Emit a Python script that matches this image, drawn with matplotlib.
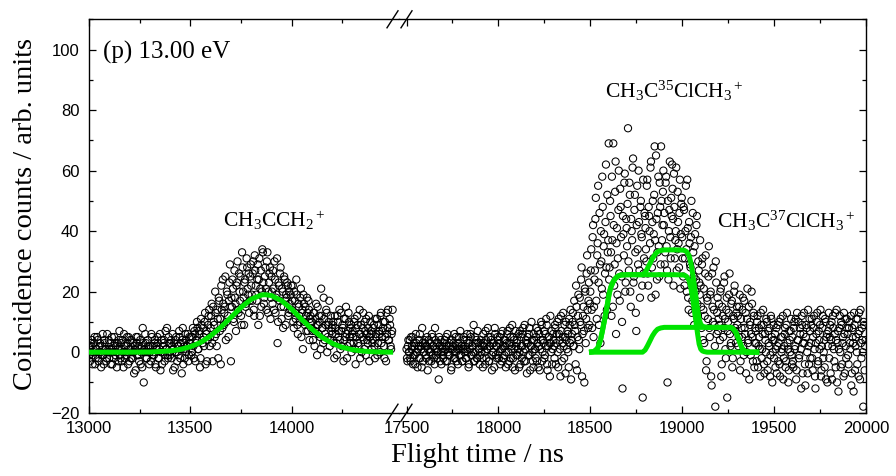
import numpy as np
import matplotlib
matplotlib.use('Agg')
import matplotlib.pyplot as plt
from matplotlib.lines import Line2D

plt.rcParams['font.family'] = ['Liberation Sans', 'DejaVu Sans']
plt.rcParams['mathtext.fontset'] = 'custom'
plt.rcParams['mathtext.rm'] = 'Liberation Serif'
plt.rcParams['mathtext.it'] = 'Liberation Serif:italic'
plt.rcParams['mathtext.bf'] = 'Liberation Serif:bold'

# ---------------- data ----------------
BIN_NS = 5          # spacing of each recorded series
HALF_BIN = 2.5      # second series sits between the bins of the first
LEFT_T0 = 13000
RIGHT_T0 = 17500

left_counts = [
    2, -3, 0, 4, -1, 3, -4, 1, 5, -2, 0, 3, -5, 2, -1, 4, 1, -3, 6, 0,
    -2, 3, 1, -4, 2, 5, -1, 0, 3, -3, 7, -2, 1, 4, -5, 2, 0, -1, 3, 5,
    -3, 1, 4, -2, 0, 2, -6, 3, 5, -1, 1, -4, 2, 8, -10, 0, 3, -2, 4, 1,
    0, -3, 5, 2, -1, 4, -5, 1, 3, -2, 6, 0, -4, 2, 4, -1, 1, 8, -2, 3,
    -1, 4, 2, -6, 3, 0, 5, -3, 2, 7, -2, 1, 4, -4, 3, 6, 0, 2, -3, 5,
    3, -1, 5, 2, 7, -3, 4, 8, 1, 6, -2, 9, 3, 5, 10, -4, 7, 4, 12, 2,
    8, 16, -3, 10, 5, 13, 2, 11, 18, 7, -4, 14, 24, 9, 15, 4, 20, 12, 17, 29,
    -3, 15, 21, 10, 18, 7, 23, 14, 26, 17, 12, 33, 20, 9, 24, 16, 28, 19, 13, 25,
    22, 17, 30, 12, 27, 19, 24, 9, 31, 21, 15, 34, 23, 18, 28, 14, 33, 20, 26, 11,
    25, 16, 21, 30, 13, 19, 3, 23, 17, 28, 11, 20, 15, 24, 9, 18, 22, 13, 16, 19,
    14, 22, 8, 17, 11, 19, 6, 15, 10, 21, 13, 1, 16, 9, 12, 18, 7, 14, 11, 8,
    10, 4, 13, 7, 16, -1, 9, 12, 5, 21, 8, 3, 11, 6, 14, 0, 9, 17, 4, 7,
    6, 10, -2, 8, 3, 12, 5, 14, 1, 7, 9, -3, 4, 11, 6, 2, 13, 5, 8, 0,
    7, 3, 11, -4, 5, 9, 2, 14, 6, 0, 8, 4, 10, -1, 6, 3, 12, 5, 7, 1,
    4, 9, -2, 6, 11, 3, 7, 0, 13, 5, 8, 2, 10, -3, 6, 14, 4, 9, 1, 7,
]

left_counts_b = [
    -1, 3, 2, -4, 0, 5, -2, 1, 4, -3, 2, 0, -1, 6, -4, 3, 1, -2, 0, 4,
    1, -4, 5, 0, -2, 3, 2, -5, 1, 4, -1, 3, -3, 0, 6, -2, 2, 5, -4, 1,
    4, -2, 0, 3, -7, 1, 5, -1, 2, -3, 4, 0, -5, 3, 1, 6, -2, 0, 2, -4,
    2, 6, -1, 0, 3, -4, 2, 5, -2, 1, -6, 4, 0, 3, -3, 7, 1, -1, 5, 0,
    3, -2, 6, 1, -5, 4, 0, 2, -1, 5, 3, -7, 8, 1, -2, 4, 2, 6, -1, 3,
    5, 0, 8, -2, 6, 3, 10, 1, 7, -5, 11, 4, 8, 2, 13, 6, -3, 9, 14, 5,
    12, 3, 15, 9, 20, 6, 14, -2, 17, 11, 22, 8, 16, 13, 25, 10, 19, 5, 23, 15,
    18, 24, 11, 27, 16, 22, 30, 13, 20, 25, 9, 28, 18, 23, 15, 31, 21, 26, 17, 29,
    19, 26, 14, 32, 22, 17, 29, 24, 12, 27, 20, 33, 16, 25, 21, 30, 13, 23, 28, 18,
    20, 27, 14, 24, 18, 31, 10, 22, 26, 15, 21, 8, 25, 17, 19, 23, 12, 20, 14, 22,
    17, 10, 20, 13, 24, 9, 16, 12, 18, 5, 14, 19, 10, 15, 7, 13, 17, 4, 12, 10,
    7, 13, 2, 11, 9, 15, 6, 10, 1, 12, 8, 18, 4, 9, 13, 5, 10, 2, 12, 8,
    9, 3, 12, 6, -1, 10, 7, 4, 13, 2, 8, 11, 5, 15, -2, 7, 10, 3, 9, 6,
    5, 10, 1, 8, 12, 3, 6, -2, 9, 5, 13, 1, 7, 11, 4, 8, -3, 10, 6, 3,
    8, 2, 11, 5, -1, 9, 6, 12, 3, 7, 10, -2, 5, 13, 8, 4, 11, 2, 6, 14,
]

right_counts = [
    1, -3, 4, 0, -2, 5, 2, -4, 3, -1, 6, 0, -5, 2, 4, -2, 1, 8, -3, 0,
    3, -1, 2, -6, 4, 0, 1, -3, 5, 2, -2, 8, -1, 3, 0, -9, 2, 4, -4, 1,
    -2, 3, 1, 5, -3, 0, 2, -1, 4, -5, 1, 3, 6, -2, 0, 2, -4, 5, 1, -1,
    2, -3, 4, 0, 1, -2, 6, 3, -4, 1, 5, -1, 2, 9, -3, 0, 4, -2, 3, 1,
    -1, 4, 2, -5, 3, 0, 7, -2, 1, 5, -3, 2, 4, -6, 0, 3, 8, -1, 2, 5,
    0, 3, -4, 6, 1, -2, 4, 2, -5, 3, 7, 0, -3, 5, 1, 9, -2, 4, -6, 2,
    3, -1, 6, 0, -4, 5, 2, 8, -3, 1, 4, -7, 3, 6, -1, 2, 10, 0, -5, 4,
    1, 5, -3, 7, 2, -6, 4, 9, 0, 3, -2, 6, 11, -4, 2, 5, -8, 3, 7, 1,
    4, -2, 8, 3, 10, -5, 6, 1, 12, -3, 5, 2, 9, -7, 4, 7, 0, 11, 3, -9,
    6, 13, 2, 9, -4, 15, 5, 19, 1, 10, 24, -8, 12, 7, 21, 3, 26, 14, 17, 9,
    20, 34, 8, 42, 15, 27, 51, 11, 36, 23, 46, 3, 30, 58, 19, 39, 26, 62, 14, 33,
    69, 28, 45, 12, 37, 69, 22, 53, 6, 41, 31, 60, 17, 48, 25, -12, 39, 56, 20, 44,
    35, 74, 27, 52, 15, 40, 61, 23, 47, 33, 7, 55, 29, 43, 18, 50, 38, -15, 26, 46,
    41, 30, 57, 22, 45, 36, 63, 28, 50, 39, 68, 19, 44, 33, 58, 25, 48, 68, 37, 53,
    42, 29, 56, 35, -10, 24, 47, 38, 51, 62, 44, 59, 31, 40, 27, 53, 36, 46, 21, 49,
    38, 25, 47, 31, 55, 20, 41, 14, 36, 28, 50, 17, 33, 9, 39, 24, 45, 12, 27, 19,
    22, 8, 31, 14, 3, 26, -6, 18, 11, 35, 5, 20, -11, 15, 28, 9, -18, 23, 13, 7,
    16, 4, 21, -4, 12, 8, 25, 1, 14, -15, 10, 19, 6, 3, 17, -2, 11, 22, 7, 13,
    9, 2, 15, -6, 11, 5, 18, -1, 8, 13, 0, 21, 4, -9, 10, 6, 16, -3, 12, 3,
    7, -3, 12, 2, 5, -8, 9, 1, 14, -4, 6, 0, 10, -6, 3, 8, -1, 11, -10, 4,
    -2, 6, 1, -7, 9, 3, -4, 11, 0, 5, -9, 2, 8, -3, 13, 1, -6, 4, 7, -1,
    5, -5, 10, 2, -9, 13, 4, -2, 8, 1, 12, -7, 6, 3, -11, 9, 0, 14, -4, 7,
    3, 11, -6, 8, 1, -12, 6, 13, -3, 4, 9, -8, 2, 12, 0, -5, 10, 5, -10, 7,
    -2, 9, 4, -9, 12, 1, 6, -5, 14, 3, -13, 8, 0, 10, -4, 5, 13, -7, 2, 11,
    6, -4, 10, 1, -11, 8, 3, 13, -6, 5, 0, 11, -8, 7, 14, -2, 4, -18, 9, 2,
]

right_counts_b = [
    -2, 2, 0, 4, -3, 1, 5, -1, 2, -4, 3, 0, 1, -2, 6, 2, -5, 3, 0, 4,
    2, -2, 5, 1, -3, 3, 0, 6, -1, 2, -4, 4, 1, -2, 3, 5, -3, 0, 2, -1,
    0, 4, -3, 2, 6, -1, 3, 1, -6, 4, 2, -2, 0, 5, -3, 1, 3, -1, 7, 2,
    -3, 1, 5, 2, -2, 4, 0, -5, 3, 6, -1, 2, 0, -3, 5, 3, -2, 7, 1, -4,
    3, 0, -2, 6, 2, -4, 4, 1, 8, -3, 2, 5, -1, 3, 0, -5, 6, 2, -2, 4,
    -2, 5, 1, -3, 7, 2, -1, 4, 0, 6, -4, 3, 8, -2, 2, -5, 5, 1, 7, -1,
    4, 1, -5, 7, 2, -2, 6, 0, 9, -3, 3, 5, -1, 8, -6, 2, 4, -3, 6, 1,
    -2, 8, 3, -5, 6, 1, 10, -3, 4, 7, -1, 2, 9, -6, 5, 3, 12, 0, -4, 6,
    2, 9, -4, 6, 0, 11, 4, -8, 7, 3, 13, -2, 5, 10, 1, 6, -5, 9, 14, 4,
    10, 2, 17, 7, 22, -6, 12, 4, 18, 9, 28, 6, 15, -10, 20, 11, 32, 8, 23, 16,
    27, 14, 38, 5, 24, 44, 17, 32, 55, 9, 29, 40, 21, 48, 35, 12, 43, 28, 52, 37,
    24, 50, 33, 58, 15, 42, 29, 63, 36, 19, 47, 26, 54, 38, 10, 45, 32, 59, 23, 41,
    49, 30, 56, 20, 44, 37, 64, 25, 52, 13, 42, 34, 60, 27, 48, 39, 22, 57, 31, 45,
    34, 55, 26, 48, 40, 61, 18, 43, 31, 52, 37, 65, 24, 46, 35, 56, 29, 50, 42, 60,
    46, 33, 58, 27, 50, 40, 63, 31, 45, 54, 22, 48, 37, 61, 34, 43, 28, 57, 39, 51,
    31, 48, 22, 40, 34, 57, 18, 43, 29, 38, 13, 46, 25, 35, 20, 42, 16, 30, 23, 37,
    15, 29, 4, 21, 12, 32, -3, 17, 25, 8, 19, -8, 26, 10, 14, 2, 30, 6, 18, 11,
    9, 20, -8, 15, 5, 23, 11, -2, 18, 7, 13, 26, 2, 16, -5, 12, 20, 8, 3, 15,
    12, 5, 19, -3, 8, 14, 2, 17, 6, -7, 11, 3, 15, 9, -1, 20, 5, 13, -5, 8,
    3, 10, -5, 8, 1, 13, -2, 6, 9, -7, 4, 11, -3, 7, 2, -8, 12, 5, 0, 9,
    4, -5, 8, 2, -3, 10, -8, 5, 1, 12, -2, 6, -5, 9, 3, -10, 7, 0, 11, -4,
    -3, 8, 1, 11, -6, 4, 10, -1, 6, -12, 9, 3, 13, -4, 5, 8, -7, 2, 11, -2,
    9, -2, 5, 12, -8, 3, 10, -4, 7, 1, 14, -6, 8, -2, 4, 11, -9, 6, 2, 13,
    5, -7, 10, 2, 8, -3, 13, 4, -10, 7, 1, 12, -5, 9, 3, -8, 6, 11, -2, 8,
    -1, 8, 3, 12, -7, 5, -13, 9, 2, 11, -4, 6, 13, -9, 3, 8, 0, 10, -6, 4,
]

# fitted curve for CH3CCH2+ (left part)
gauss_t = [13000, 13100, 13200, 13300, 13400, 13450, 13500, 13550, 13600, 13650,
           13700, 13750, 13800, 13850, 13870, 13900, 13950, 14000, 14050, 14100,
           14150, 14200, 14250, 14300, 14350, 14400, 14450, 14500]
gauss_y = [0.0, 0.0, 0.0, 0.05, 0.4, 0.9, 1.8, 3.2, 5.4, 8.2,
           11.5, 14.8, 17.5, 18.9, 19.0, 18.7, 17.0, 14.2, 10.8, 7.6,
           4.9, 2.9, 1.6, 0.8, 0.35, 0.15, 0.05, 0.0]

# fitted curves for CH3C35ClCH3+, CH3C37ClCH3+ and their sum (right part)
fit_t = [18493, 18520, 18540, 18555, 18566, 18580, 18593, 18603, 18611, 18625,
         18638, 18652, 18666, 18700, 18750, 18784, 18798, 18811, 18825, 18838,
         18852, 18866, 18883, 18902, 18920, 18960, 19010, 19024, 19038, 19047,
         19056, 19065, 19074, 19083, 19092, 19101, 19110, 19119, 19135, 19200,
         19265, 19279, 19292, 19301, 19310, 19319, 19328, 19342, 19356, 19419]
fit_35 = [0.0, 0.2, 1.3, 4.0, 7.1, 11.5, 15.9, 19.5, 21.4, 23.4,
          24.5, 25.2, 25.5, 25.6, 25.6, 25.6, 25.6, 25.6, 25.6, 25.6,
          25.6, 25.6, 25.6, 25.6, 25.6, 25.6, 25.5, 25.0, 23.6, 21.3,
          18.1, 14.3, 10.4, 6.3, 2.7, 1.0, 0.4, 0.2, 0.0, 0.0,
          0.0, 0.0, 0.0, 0.0, 0.0, 0.0, 0.0, 0.0, 0.0, 0.0]
fit_37 = [0.0, 0.0, 0.0, 0.0, 0.0, 0.0, 0.0, 0.0, 0.0, 0.0,
          0.0, 0.0, 0.0, 0.0, 0.0, 0.0, 0.7, 2.1, 3.8, 5.4,
          6.7, 7.6, 8.0, 8.2, 8.2, 8.2, 8.2, 8.2, 8.2, 8.2,
          8.2, 8.2, 8.2, 8.2, 8.2, 8.2, 8.2, 8.2, 8.2, 8.2,
          8.2, 7.6, 6.5, 5.3, 3.8, 2.3, 1.1, 0.3, 0.0, 0.0]
fit_total = [0.0, 0.2, 1.3, 4.0, 7.1, 11.5, 15.9, 19.5, 21.4, 23.4,
             24.5, 25.2, 25.5, 25.6, 25.6, 25.6, 26.3, 27.7, 29.4, 31.0,
             32.3, 33.2, 33.6, 33.8, 33.8, 33.8, 33.7, 33.2, 31.8, 29.5,
             26.3, 22.5, 18.6, 14.5, 10.9, 9.2, 8.6, 8.4, 8.2, 8.2,
             8.2, 7.6, 6.5, 5.3, 3.8, 2.3, 1.1, 0.3, 0.0, 0.0]

left_t = LEFT_T0 + BIN_NS * np.arange(len(left_counts))
left_t_b = LEFT_T0 + HALF_BIN + BIN_NS * np.arange(len(left_counts_b))
right_t = RIGHT_T0 + BIN_NS * np.arange(len(right_counts))
right_t_b = RIGHT_T0 + HALF_BIN + BIN_NS * np.arange(len(right_counts_b))

# ---------------- figure ----------------
W, H = 896, 476
fig = plt.figure(figsize=(W / 100, H / 100), dpi=100)

ax_bottom_px, ax_top_px = 412.7, 19.3
x0, xb, x1 = 89, 399, 866
ax_h = (ax_bottom_px - ax_top_px) / H
ax_y = 1 - ax_bottom_px / H
axL = fig.add_axes([x0 / W, ax_y, (xb - x0) / W, ax_h])
axR = fig.add_axes([xb / W, ax_y, (x1 - xb) / W, ax_h])

GREEN = '#00e400'
mk = dict(s=27, facecolors='none', edgecolors='black', linewidths=0.75, zorder=2)

axL.scatter(np.concatenate([left_t, left_t_b]),
            np.concatenate([left_counts, left_counts_b]), **mk)
axL.plot(gauss_t, gauss_y, color=GREEN, lw=3.6, zorder=3, solid_capstyle='butt')

axR.scatter(np.concatenate([right_t, right_t_b]),
            np.concatenate([right_counts, right_counts_b]), **mk)
for ys in (fit_35, fit_37, fit_total):
    axR.plot(fit_t, ys, color=GREEN, lw=3.6, zorder=3, solid_capstyle='butt')

axL.set_xlim(13000, 14529)
axR.set_xlim(17459, 20000)
for ax in (axL, axR):
    ax.set_ylim(-20, 110)
    for sp in ax.spines.values():
        sp.set_linewidth(1.0)

axL.set_xticks([13000, 13500, 14000])
axL.set_xticks([13250, 13750, 14250], minor=True)
axR.set_xticks([17500, 18000, 18500, 19000, 19500, 20000])
axR.set_xticks([17750, 18250, 18750, 19250, 19750], minor=True)
axL.set_yticks([-20, 0, 20, 40, 60, 80, 100])
axL.set_yticks([-10, 10, 30, 50, 70, 90, 110], minor=True)
axR.set_yticks([-20, 0, 20, 40, 60, 80, 100])
axR.set_yticks([-10, 10, 30, 50, 70, 90, 110], minor=True)

axL.spines['right'].set_visible(False)
axR.spines['left'].set_visible(False)

axL.tick_params(which='both', direction='in', top=True, bottom=True, left=True, right=False,
                labelsize=12, width=0.9)
axR.tick_params(which='both', direction='in', top=True, bottom=True, left=False, right=True,
                labelleft=False, labelright=False, labelsize=12, width=0.9)
for ax in (axL, axR):
    ax.tick_params(which='major', length=5)
    ax.tick_params(which='minor', length=3)
    ax.tick_params(axis='x', pad=6)
    ax.tick_params(axis='y', pad=7)

# break marks
def brk(xa, ya, xb_, yb_):
    fig.add_artist(Line2D([xa / W, xb_ / W], [1 - ya / H, 1 - yb_ / H],
                          transform=fig.transFigure, color='black', lw=1.0))

for yc in (ax_bottom_px, ax_top_px):
    brk(387, yc + 8.5, 398, yc - 8.5)
    brk(401, yc + 8.5, 412, yc - 8.5)

SERIF = 'Liberation Serif'
fig.text(26 / W, 1 - 214 / H, 'Coincidence counts / arb. units', rotation=90,
         ha='center', va='center', fontsize=20.5, family=SERIF)
fig.text(477 / W, 1 - 456 / H, 'Flight time / ns', ha='center', va='center',
         fontsize=20.5, family=SERIF)

axL.text(13070, 99, '(p) 13.00 eV', ha='left', va='center', fontsize=18, family=SERIF)
axL.text(13913, 41.4, r'CH$_3$CCH$_2$$^+$', ha='center', va='baseline', fontsize=15.5,
         family=SERIF)
axR.text(18958, 84.1, r'CH$_3$C$^{35}$ClCH$_3$$^+$', ha='center', va='baseline',
         fontsize=15.5, family=SERIF)
axR.text(19566, 41.2, r'CH$_3$C$^{37}$ClCH$_3$$^+$', ha='center', va='baseline',
         fontsize=15.5, family=SERIF)

fig.savefig('out.png', dpi=100)
